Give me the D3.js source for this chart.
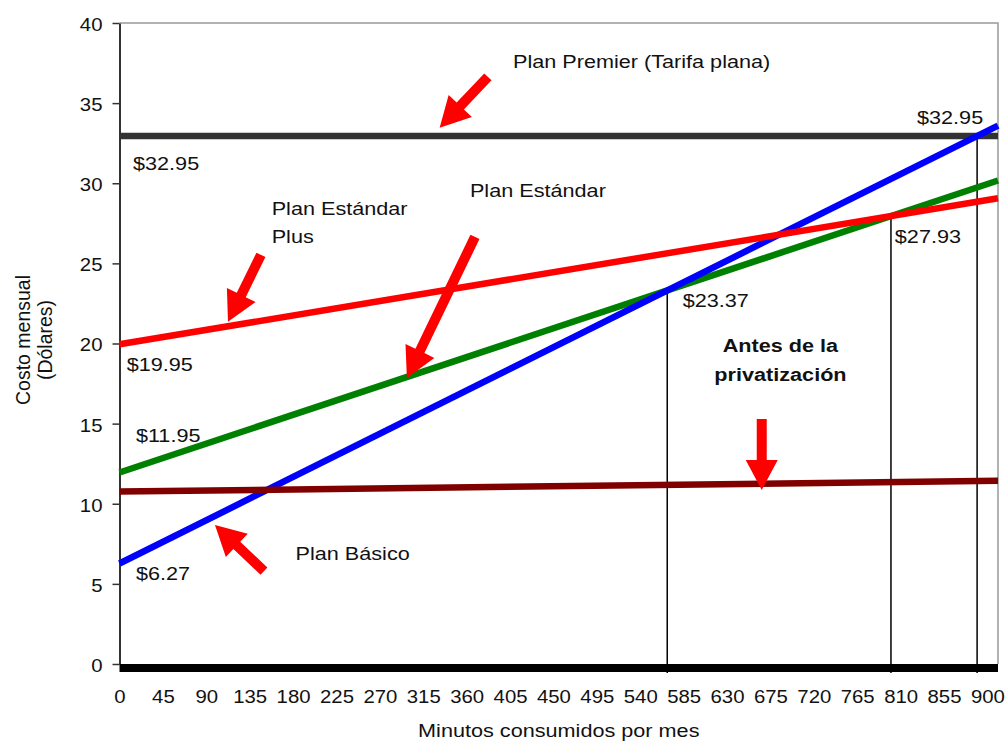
<!DOCTYPE html>
<html>
<head>
<meta charset="utf-8">
<script src="https://cdn.jsdelivr.net/npm/d3@7/dist/d3.min.js"></script>
<style>
  body { margin: 0; background: #fff; }
  svg { display: block; font-family: "Liberation Sans", Arial, sans-serif; }
</style>
</head>
<body>
<svg width="1008" height="742"></svg>
<script>
// minutos at the two ends of every plan line (left axis -> right edge of plot)
var minutos = [0, 911];

// costo mensual (dolares) at those two ends
var premier = [32.95, 32.95];
var basico = [6.27, 33.60];
var estandar = [11.95, 30.17];
var estandarPlus = [19.95, 29.06];
var antes = [10.76, 11.43];

var xTicks = [0, 45, 90, 135, 180, 225, 270, 315, 360, 405, 450, 495, 540, 585, 630, 675, 720, 765, 810, 855, 900];
var yTicks = [0, 5, 10, 15, 20, 25, 30, 35, 40];

var svg = d3.select("svg"),
    margin = {top: 23, right: 10, bottom: 78, left: 119.5},
    width = +svg.attr("width") - margin.left - margin.right,
    height = +svg.attr("height") - margin.top - margin.bottom,
    g = svg.append("g").attr("transform", "translate(" + margin.left + "," + margin.top + ")");

var x = d3.scaleLinear().domain([0, 911]).range([0, width]);
var y = d3.scaleLinear().domain([0, 40]).range([height, 0]);

var series = [
  {name: "premier", values: premier, color: "#333333"},
  {name: "estandar", values: estandar, color: "#008000"},
  {name: "basico", values: basico, color: "#0000ff"},
  {name: "plus", values: estandarPlus, color: "#ff0000"},
  {name: "antes", values: antes, color: "#800000"}
];

// plot border (top + right)
g.append("path")
  .attr("d", "M0,0H" + width + "V" + height)
  .attr("fill", "none")
  .attr("stroke", "#999")
  .attr("stroke-width", 1.5);

// y axis
var yAxis = g.append("g")
  .call(d3.axisLeft(y).tickValues(yTicks).tickSize(7).tickSizeOuter(0));
yAxis.select(".domain").attr("stroke", "#333").attr("stroke-width", 2);
yAxis.selectAll(".tick line").attr("stroke", "#333").attr("stroke-width", 1.5);
yAxis.selectAll(".tick text")
  .attr("x", -15.5)
  .attr("dy", "0.4em")
  .attr("font-size", 18.5)
  .attr("fill", "#111")
  .attr("transform", "scale(1.1,1)");

// x axis: thick black bar + labels
g.append("line")
  .attr("x1", 0).attr("x2", width)
  .attr("y1", height + 4).attr("y2", height + 4)
  .attr("stroke", "#000")
  .attr("stroke-width", 8);

var xAxis = g.append("g")
  .attr("transform", "translate(0," + height + ")")
  .call(d3.axisBottom(x).tickValues(xTicks).tickSize(0));
xAxis.select(".domain").remove();
xAxis.selectAll(".tick text")
  .attr("y", 39)
  .attr("dy", null)
  .attr("font-size", 18.5)
  .attr("fill", "#111")
  .attr("transform", "scale(1.1,1)");

// drop lines at the crossing points
function cruce(a, b) {
  var sa = (a[1] - a[0]) / (minutos[1] - minutos[0]),
      sb = (b[1] - b[0]) / (minutos[1] - minutos[0]);
  var m = (b[0] - a[0]) / (sa - sb);
  return {m: m, v: a[0] + sa * m};
}
var cortes = [cruce(basico, estandar), cruce(estandar, estandarPlus), cruce(basico, premier)];

g.append("g").selectAll("line")
  .data(cortes)
  .enter().append("line")
    .attr("x1", function(d) { return x(d.m); })
    .attr("x2", function(d) { return x(d.m); })
    .attr("y1", function(d) { return y(d.v); })
    .attr("y2", height + 9)
    .attr("stroke", "#000")
    .attr("stroke-width", 1.5);

// plan lines
var line = d3.line()
  .x(function(d, i) { return x(minutos[i]); })
  .y(function(d) { return y(d); });

g.append("g").selectAll("path")
  .data(series)
  .enter().append("path")
    .attr("d", function(d) { return line(d.values); })
    .attr("fill", "none")
    .attr("stroke", function(d) { return d.color; })
    .attr("stroke-width", 6.5);

// red arrows (tail minute, tail cost, tip minute, tip cost)
var flechas = [
  [382, 36.64, 332, 33.46],
  [146.7, 25.53, 112.5, 21.35],
  [368.6, 26.65, 298, 17.85],
  [149.8, 5.8, 99, 8.68],
  [666, 15.29, 666, 10.86]
];

function flecha(d) {
  var x1 = x(d[0]), y1 = y(d[1]), x2 = x(d[2]), y2 = y(d[3]);
  var len = Math.sqrt((x2 - x1) * (x2 - x1) + (y2 - y1) * (y2 - y1)),
      ux = (x2 - x1) / len, uy = (y2 - y1) / len,
      px = -uy, py = ux,
      sw = 5, hw = 16, hl = 30;
  var bx = x2 - ux * hl, by = y2 - uy * hl;
  var pts = [
    [x1 + px * sw, y1 + py * sw],
    [bx + px * sw, by + py * sw],
    [bx + px * hw, by + py * hw],
    [x2, y2],
    [bx - px * hw, by - py * hw],
    [bx - px * sw, by - py * sw],
    [x1 - px * sw, y1 - py * sw]
  ];
  return pts.map(function(p) { return p.join(","); }).join(" ");
}

g.append("g").selectAll("polygon")
  .data(flechas)
  .enter().append("polygon")
    .attr("points", flecha)
    .attr("fill", "#ff0000");

// text notes (minute, cost of anchor point)
var notas = [
  {t: "Plan Premier (Tarifa plana)", m: 408, v: 37.18},
  {t: "$32.95", m: 14, v: 30.84},
  {t: "$32.95", m: 827, v: 33.69},
  {t: "Plan Estándar", m: 363.4, v: 29.13},
  {t: "Plan Estándar", m: 157.8, v: 28.03},
  {t: "Plus", m: 157.8, v: 26.28},
  {t: "$27.93", m: 804, v: 26.26},
  {t: "$23.37", m: 584, v: 22.28},
  {t: "$19.95", m: 7.5, v: 18.31},
  {t: "$11.95", m: 17, v: 13.88},
  {t: "Plan Básico", m: 182.5, v: 6.49},
  {t: "$6.27", m: 17, v: 5.24},
  {t: "Antes de la", m: 685.4, v: 19.49, bold: true},
  {t: "privatización", m: 685.4, v: 17.68, bold: true}
];

g.append("g").selectAll("text")
  .data(notas)
  .enter().append("text")
    .attr("transform", function(d) { return "translate(" + x(d.m) + "," + y(d.v) + ") scale(1.17,1)"; })
    .attr("text-anchor", function(d) { return d.bold ? "middle" : "start"; })
    .attr("font-weight", function(d) { return d.bold ? "bold" : "normal"; })
    .attr("font-size", 18.5)
    .attr("fill", "#111")
    .text(function(d) { return d.t; });

// axis titles
svg.append("text")
  .attr("transform", "translate(" + (margin.left + width / 2) + ",737) scale(1.17,1)")
  .attr("text-anchor", "middle")
  .attr("font-size", 18.5)
  .attr("fill", "#111")
  .text("Minutos consumidos por mes");

var yTitle = svg.append("text")
  .attr("transform", "translate(30,340) rotate(-90)")
  .attr("text-anchor", "middle")
  .attr("font-size", 19.5)
  .attr("fill", "#111");
yTitle.append("tspan").attr("x", 0).attr("dy", 0).text("Costo mensual");
yTitle.append("tspan").attr("x", 0).attr("dy", 22).text("(Dólares)");
</script>
</body>
</html>
